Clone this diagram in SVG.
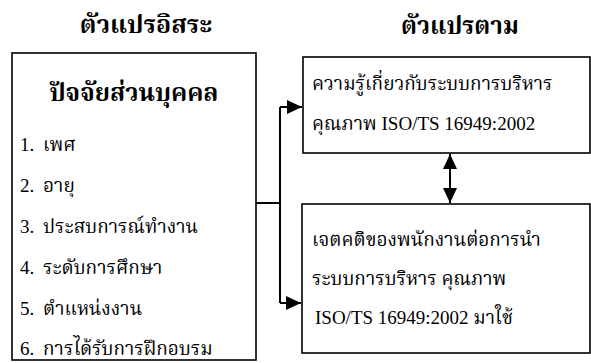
<svg xmlns="http://www.w3.org/2000/svg" width="591" height="363" viewBox="0 0 591 363">
<defs>
<marker id="ah" viewBox="0 0 15 14" refX="15" refY="7" markerWidth="15" markerHeight="14" markerUnits="userSpaceOnUse" orient="auto-start-reverse">
<path d="M0,0 L15,7 L0,14 z" fill="#000"/>
</marker>
</defs>
<style>
text{font-family:"Liberation Serif","Noto Serif Thai","Noto Sans Thai",serif;fill:#000}
.h{font-size:25px;font-weight:bold}
.t{font-size:19px}
.b{fill:#fff;stroke:#000;stroke-width:1.6}
.c{fill:none;stroke:#000;stroke-width:2}
</style>
<rect width="591" height="363" fill="#fff"/>
<text class="h" x="146" y="33" text-anchor="middle">ตัวแปรอิสระ</text>
<text class="h" x="460" y="34" text-anchor="middle" style="font-size:24px">ตัวแปรตาม</text>
<g id="left">
<rect class="b" x="12" y="53" width="244" height="307"/>
<text class="h" x="134" y="101" text-anchor="middle" style="font-size:24.5px">ปัจจัยส่วนบุคคล</text>
<text class="t" x="20" y="151">1.<tspan x="43">เพศ</tspan></text>
<text class="t" x="20" y="192">2.<tspan x="43">อายุ</tspan></text>
<text class="t" x="20" y="233">3.<tspan x="43">ประสบการณ์ทำงาน</tspan></text>
<text class="t" x="20" y="274">4.<tspan x="43">ระดับการศึกษา</tspan></text>
<text class="t" x="20" y="315">5.<tspan x="43">ตำแหน่งงาน</tspan></text>
<text class="t" x="20" y="355">6.<tspan x="43">การได้รับการฝึกอบรม</tspan></text>
</g>
<g id="dv1">
<rect class="b" x="303" y="57" width="287" height="96"/>
<text class="t" x="312" y="90">ความรู้เกี่ยวกับระบบการบริหาร</text>
<text class="t" x="312" y="130">คุณภาพ ISO/TS 16949:2002</text>
</g>
<g id="dv2">
<rect class="b" x="302" y="204" width="288" height="149"/>
<text class="t" x="312" y="246">เจตคติของพนักงานต่อการนำ</text>
<text class="t" x="312" y="285">ระบบการบริหาร คุณภาพ</text>
<text class="t" x="315" y="324">ISO/TS 16949:2002 มาใช้</text>
</g>
<g id="connectors">
<path class="c" d="M256,203 H280"/>
<path class="c" d="M280,107 V303"/>
<path class="c" d="M280,107 H302" marker-end="url(#ah)"/>
<path class="c" d="M280,303 H301" marker-end="url(#ah)"/>
<path class="c" d="M450,154 V203" marker-start="url(#ah)" marker-end="url(#ah)"/>
</g>
</svg>
